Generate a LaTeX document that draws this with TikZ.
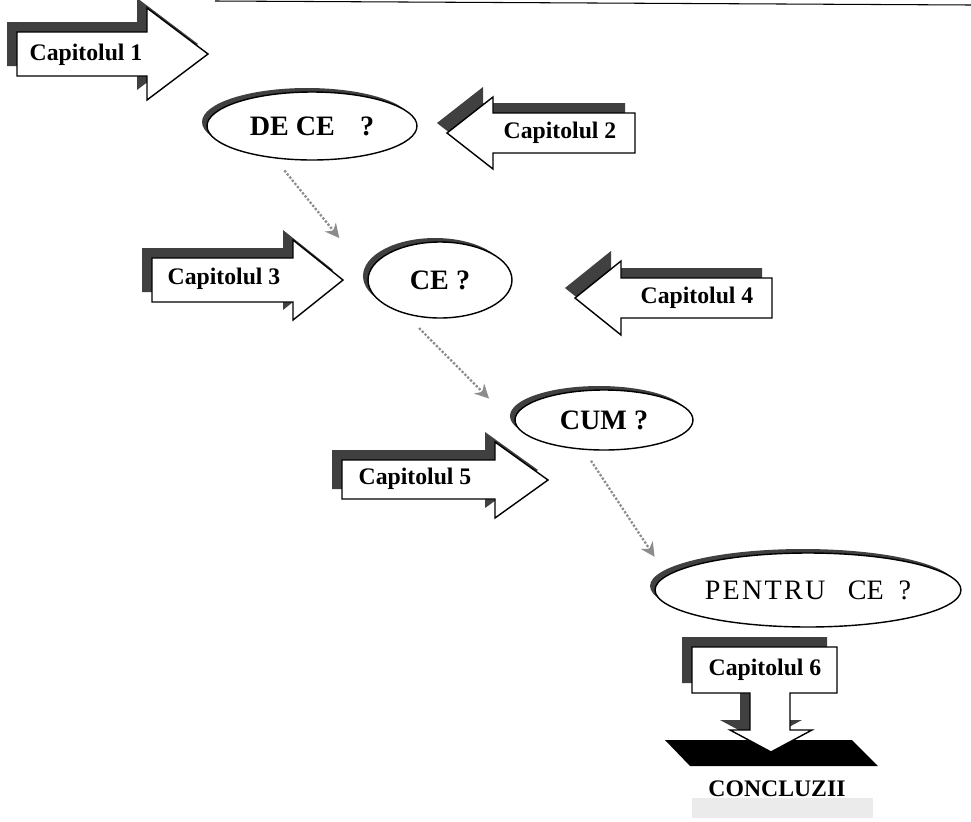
\documentclass[tikz,border=0pt]{standalone}
\usepackage{fontspec}
\setmainfont{Liberation Serif}
\usetikzlibrary{arrows.meta,shapes.geometric,shadows}

\begin{document}
\begin{tikzpicture}[x=0.02cm,y=-0.02cm,>=Stealth,
  chapter/.style={draw,fill=white,line width=0.8pt,line join=miter,
    drop shadow={shadow xshift=-0.2cm,shadow yshift=0.2cm,fill=black!75,opacity=1}},
  chaplabel/.style={font=\fontsize{13.5}{16}\selectfont\bfseries,inner sep=0pt},
  bubble/.style={ellipse,draw,fill=white,line width=0.8pt,inner sep=0pt,
    font=\fontsize{16}{19}\selectfont\bfseries,
    drop shadow={shadow xshift=-0.1cm,shadow yshift=0.08cm,fill=black!75,opacity=1}},
  conn/.style={densely dotted,line width=1.3pt,black!45,-{Stealth[length=8pt,width=8pt]}}]
\useasboundingbox (0,0) rectangle (971,822);
\draw[line width=0.6pt] (215,1) -- (971,5);

% questions
\node[bubble,minimum width=4.2cm,minimum height=1.36cm] (dece) at (312,126) {DE CE\hspace{0.9em}?};
\node[bubble,minimum width=2.88cm,minimum height=1.52cm] (ce) at (440,280) {CE ?};
\node[bubble,minimum width=3.56cm,minimum height=1.2cm] (cum) at (604,420) {CUM ?};
\node[bubble,minimum width=6.12cm,minimum height=1.48cm,font=\fontsize{16}{19}\selectfont] (pentru) at (808,590)
  {{\addfontfeatures{LetterSpace=8}PENTRU}\hspace{0.45cm}CE\hspace{0.3cm}?};

\draw[conn,shorten <=0.31cm,shorten >=0.92cm] (dece.-139) -- (ce.175);
\draw[conn,shorten <=0.4cm,shorten >=1cm] (ce.-136) -- (cum.190);
\draw[conn,shorten <=0.26cm,shorten >=0.44cm] (cum.-124) -- (pentru.174);

% chapter arrows
\draw[chapter] (17,32) -- (147,32) -- (147,8) -- (208,54) -- (147,100) -- (147,76) -- (17,76) -- cycle;
\node[chaplabel] (cap1) at (86,55) {Capitolul 1};
\draw[chapter] (635,113) -- (493,113) -- (493,97) -- (447,133) -- (493,169) -- (493,153) -- (635,153) -- cycle;
\node[chaplabel] (cap2) at (560,133) {Capitolul 2};
\draw[chapter] (152,258) -- (293,258) -- (293,240) -- (343,280) -- (293,320) -- (293,302) -- (152,302) -- cycle;
\node[chaplabel] (cap3) at (224,279) {Capitolul 3};
\draw[chapter] (772,278) -- (621,278) -- (621,261) -- (575,298) -- (621,335) -- (621,318) -- (772,318) -- cycle;
\node[chaplabel] (cap4) at (697,298) {Capitolul 4};
\draw[chapter] (342,460) -- (495,460) -- (495,442) -- (548,480) -- (495,518) -- (495,499) -- (342,499) -- cycle;
\node[chaplabel] (cap5) at (415,479) {Capitolul 5};

% conclusions
\fill (665,740) -- (852,740) -- (878,766) -- (690,766) -- cycle;
\draw[chapter] (692,647) -- (837,647) -- (837,693) -- (790,693) -- (790,730) -- (812,730) -- (771,752)
  -- (730,730) -- (750,730) -- (750,693) -- (692,693) -- cycle;
\node[chaplabel] (cap6) at (765,670) {Capitolul 6};
\fill[black!8] (692,798) rectangle (873,818);
\node[chaplabel] (concl) at (777,789) {CONCLUZII};
\end{tikzpicture}
\end{document}
